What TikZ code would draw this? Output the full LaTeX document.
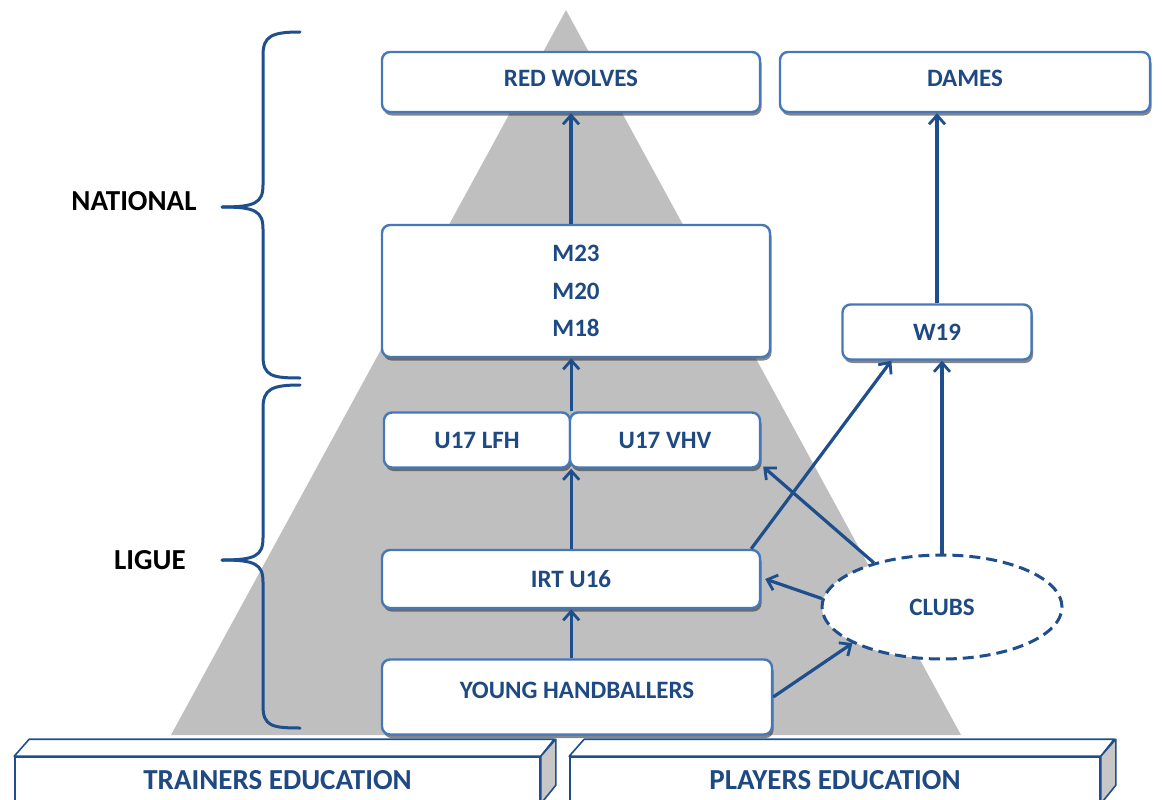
\documentclass[tikz,border=0pt]{standalone}
\usepackage{fontspec}
\setmainfont{Carlito}
\usetikzlibrary{arrows.meta,shadows,shapes.geometric}
\definecolor{lineblue}{RGB}{31,78,140}
\definecolor{textblue}{RGB}{30,73,130}
\definecolor{borderblue}{RGB}{70,120,185}
\definecolor{pyramidgray}{RGB}{191,191,191}
\begin{document}
\begin{tikzpicture}[x=1pt, y=-1pt,
    box/.style={rectangle, draw=borderblue, line width=2.4pt, rounded corners=8pt, fill=white,
        text=textblue, font=\bfseries\fontsize{25}{30}\selectfont, align=center, inner sep=0pt,
        drop shadow={shadow xshift=1.5pt, shadow yshift=-3.5pt, opacity=.6, fill=black!80}},
    edubox/.style={rectangle, draw=lineblue, line width=1.6pt, fill=white, text=textblue,
        font=\bfseries\fontsize{29}{34}\selectfont, inner sep=0pt,
        drop shadow={shadow xshift=2pt, shadow yshift=-2pt, opacity=.4, fill=black!60}},
    eduface/.style={draw=lineblue, line width=1.6pt, line join=round},
    arrow/.style={->, >={Straight Barb[length=9pt, width=16pt, line width=2.8pt]}, line width=3.2pt, lineblue},
    brace/.style={line width=3pt, lineblue, line cap=round},
    level/.style={font=\bfseries\fontsize{29}{34}\selectfont, text=black}
]
    \useasboundingbox (0,0) rectangle (1162,800);
    \fill[pyramidgray] (566,10) -- (961,735) -- (171,735) -- cycle;

    \node[box, minimum width=378pt, minimum height=60pt, text depth=8pt] (redwolves) at (571,82) {RED WOLVES};
    \node[box, minimum width=370pt, minimum height=60pt, text depth=8pt] (dames) at (965,82) {DAMES};
    \node[box, minimum width=388pt, minimum height=132pt, font=\bfseries\fontsize{25}{37.5}\selectfont] (mteams) at (576,291) {M23\\M20\\M18};
    \node[box, minimum width=189pt, minimum height=55pt] (w19) at (937,332) {W19};
    \node[box, minimum width=186pt, minimum height=55pt] (lfh) at (477,440) {U17 LFH};
    \node[box, minimum width=190pt, minimum height=55pt] (vhv) at (665,440) {U17 VHV};
    \node[box, minimum width=378pt, minimum height=58pt] (irt) at (571,579) {IRT U16};
    \node[box, minimum width=390pt, minimum height=75pt, text depth=13pt] (young) at (577,697) {YOUNG HANDBALLERS};
    \node[ellipse, draw=lineblue, dash pattern=on 11pt off 6pt, line width=3pt, fill=white,
        minimum width=240pt, minimum height=104pt, inner sep=0pt, text=textblue,
        font=\bfseries\fontsize{25}{30}\selectfont] (clubs) at (942,607) {CLUBS};

    \node[level] (national) at (134,201) {NATIONAL};
    \node[level] (ligue) at (150,560) {LIGUE};

    % braces
    \draw[brace] (300,32) .. controls (272,32) and (263,36) .. (263,55) -- (263,185)
        .. controls (263,203) and (255,207) .. (222,207);
    \draw[brace] (222,207) .. controls (255,207) and (263,211) .. (263,229) -- (263,356)
        .. controls (263,376) and (272,378) .. (300,378);
    \draw[brace] (300,385) .. controls (272,385) and (263,389) .. (263,408) -- (263,538)
        .. controls (263,556) and (255,560) .. (222,560);
    \draw[brace] (222,560) .. controls (255,560) and (263,564) .. (263,582) -- (263,706)
        .. controls (263,726) and (272,728) .. (300,728);

    % education blocks
    \node[edubox, minimum width=525pt, minimum height=46pt] (trainers) at (277.5,780) {TRAINERS EDUCATION};
    \draw[eduface, fill=white] (trainers.north west) -- ++(15,-17) -- ++(525,0) -- (trainers.north east) -- cycle;
    \draw[eduface, fill=black!22] (trainers.north east) -- ++(15,-17) -- ++(0,46) -- (trainers.south east) -- cycle;
    \node[edubox, minimum width=530pt, minimum height=46pt] (players) at (835,780) {PLAYERS EDUCATION};
    \draw[eduface, fill=white] (players.north west) -- ++(15,-17) -- ++(530,0) -- (players.north east) -- cycle;
    \draw[eduface, fill=black!22] (players.north east) -- ++(15,-17) -- ++(0,46) -- (players.south east) -- cycle;

    % arrows
    \draw[arrow] (redwolves.south |- mteams.north) -- (redwolves.south);
    \draw[arrow] (w19.north) -- (w19.north |- dames.south);
    \draw[arrow] (lfh.north east) -- (lfh.north east |- mteams.south);
    \draw[arrow] (lfh.south east |- irt.north) -- (lfh.south east);
    \draw[arrow] (lfh.south east |- young.north) -- (lfh.south east |- irt.south);
    \draw[arrow] (young.east) -- (clubs.202);
    \draw[arrow] (clubs.176) -- ([xshift=4pt]irt.east);
    \draw[arrow] (clubs.147) -- ([xshift=2pt, yshift=2pt]vhv.south east);
    \draw[arrow] ([xshift=-10pt]irt.north east) -- ([xshift=50pt]w19.south west);
    \draw[arrow] (clubs.north) -- (clubs.north |- w19.south);
\end{tikzpicture}
\end{document}
